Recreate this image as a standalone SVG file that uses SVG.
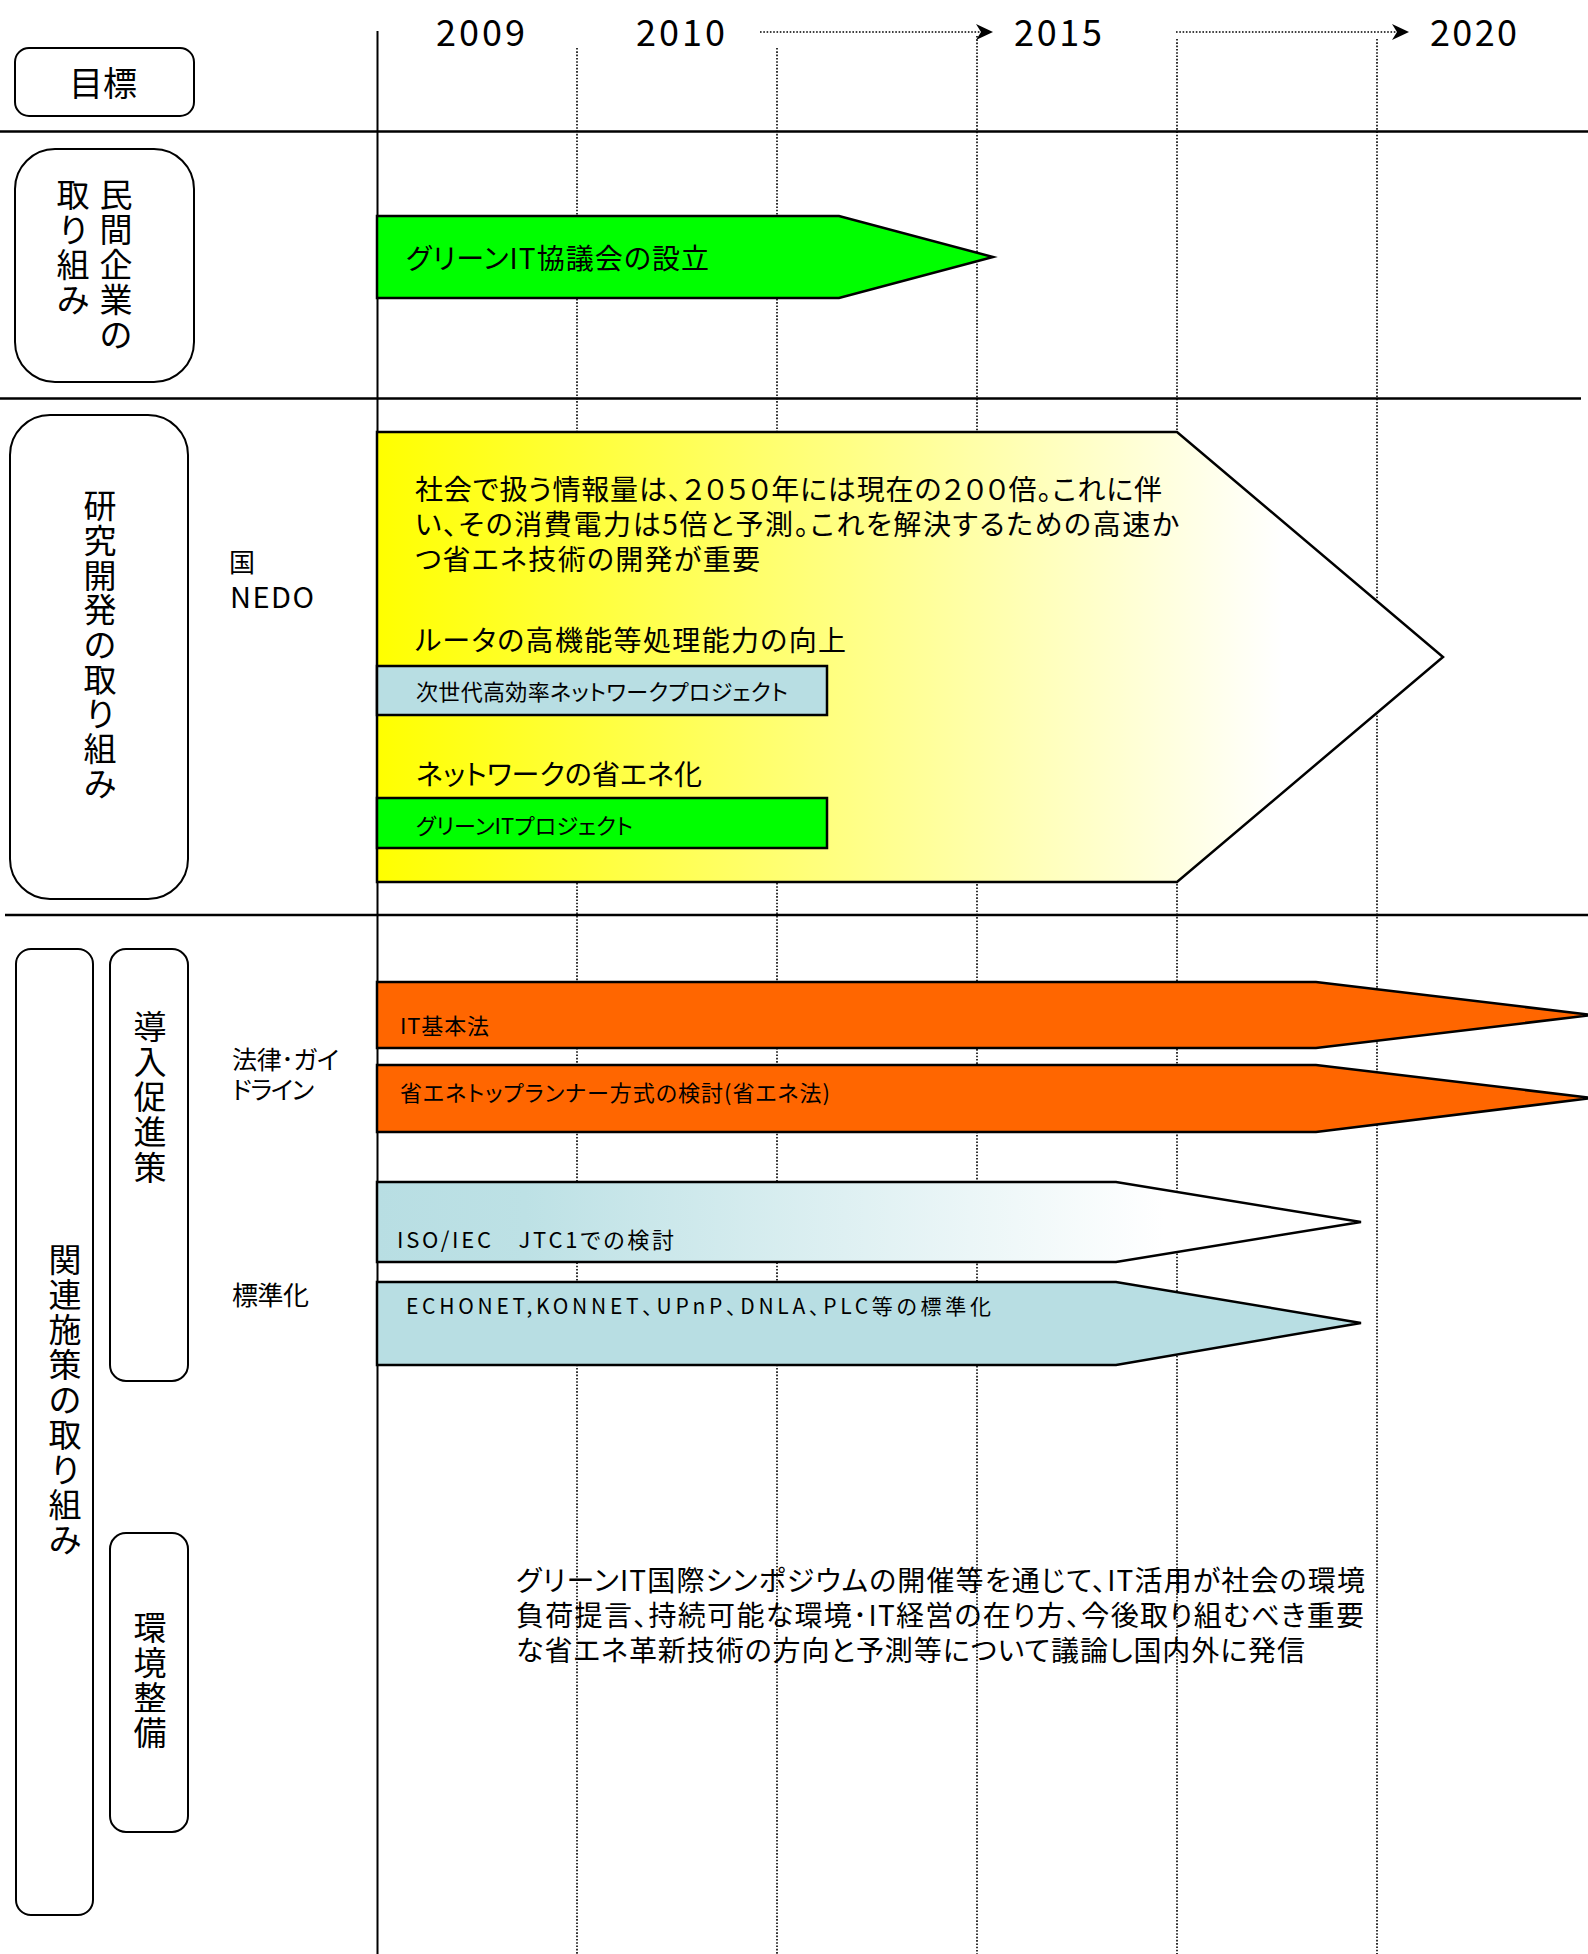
<svg xmlns="http://www.w3.org/2000/svg" width="1588" height="1954" viewBox="0 0 1588 1954">
<style>
text{font-family:"Noto Sans CJK JP","Noto Sans CJK SC",sans-serif;fill:#000;font-feature-settings:"palt"}
.yr{font-size:36px}
.lbl{font-size:33px;text-anchor:middle}
.big{font-size:28px}
.mid{font-size:25px}
.sm{font-size:22px}
.box{fill:#fff;stroke:#000;stroke-width:2}
.shp{stroke:#000;stroke-width:2.5;stroke-linejoin:miter}
.sol{stroke:#000;stroke-width:2.5;fill:none}
.dot{stroke:#000;stroke-width:1.6;stroke-dasharray:1.6 1.7;fill:none}
</style>
<defs>
<linearGradient id="gy" x1="0" y1="0" x2="1" y2="0">
<stop offset="0" stop-color="#FFFF00"/>
<stop offset="0.85" stop-color="#FFFFFF"/>
</linearGradient>
<linearGradient id="gb" x1="0" y1="0" x2="1" y2="0">
<stop offset="0" stop-color="#B8DEE3"/>
<stop offset="0.15" stop-color="#BDE1E5"/>
<stop offset="0.8" stop-color="#FFFFFF"/>
</linearGradient>
</defs>
<rect width="1588" height="1954" fill="#fff"/>

<g id="grid">
<line class="dot" x1="577" y1="48" x2="577" y2="1954"/>
<line class="dot" x1="777" y1="48" x2="777" y2="1954"/>
<line class="dot" x1="977" y1="36" x2="977" y2="1954"/>
<line class="dot" x1="1177" y1="39" x2="1177" y2="1954"/>
<line class="dot" x1="1377" y1="39" x2="1377" y2="1954"/>
<line class="sol" x1="0" y1="131.5" x2="1588" y2="131.5"/>
<line class="sol" x1="0" y1="398.5" x2="1581" y2="398.5"/>
<line class="sol" x1="5" y1="915" x2="1588" y2="915"/>
<line class="sol" style="stroke-width:2" x1="377.5" y1="31" x2="377.5" y2="1954"/>
</g>

<g id="connectors">
<line class="dot" x1="760" y1="32" x2="982" y2="32"/>
<polygon points="993,32 976,24 981,32 976,40" fill="#000"/>
<line class="dot" x1="1176" y1="32" x2="1398" y2="32"/>
<polygon points="1409,32 1392,24 1397,32 1392,40" fill="#000"/>
</g>

<g id="years">
<text class="yr" x="436" y="46" textLength="89">2009</text>
<text class="yr" x="636" y="46" textLength="89">2010</text>
<text class="yr" x="1014" y="46" textLength="88">2015</text>
<text class="yr" x="1430" y="46" textLength="87">2020</text>
</g>

<g id="goal">
<rect class="box" x="15" y="48" width="179" height="68" rx="14"/>
<text x="103" y="96" style="font-size:34px;text-anchor:middle">目標</text>
</g>

<g id="private">
<rect class="box" x="15" y="149" width="179" height="233" rx="40"/>
<text class="lbl"><tspan x="116" y="207">民</tspan><tspan x="116" y="242">間</tspan><tspan x="116" y="277">企</tspan><tspan x="116" y="312">業</tspan><tspan x="116" y="347">の</tspan></text>
<text class="lbl"><tspan x="73" y="207">取</tspan><tspan x="73" y="242">り</tspan><tspan x="73" y="277">組</tspan><tspan x="73" y="312">み</tspan></text>
</g>

<g id="research">
<rect class="box" x="10" y="415" width="178" height="484" rx="40"/>
<text class="lbl"><tspan x="100" y="518">研</tspan><tspan x="100" y="553">究</tspan><tspan x="100" y="588">開</tspan><tspan x="100" y="622">発</tspan><tspan x="100" y="657">の</tspan><tspan x="100" y="692">取</tspan><tspan x="100" y="726">り</tspan><tspan x="100" y="761">組</tspan><tspan x="100" y="796">み</tspan></text>
</g>

<g id="related">
<rect class="box" x="16" y="949" width="77" height="966" rx="15"/>
<text class="lbl"><tspan x="65" y="1272">関</tspan><tspan x="65" y="1307">連</tspan><tspan x="65" y="1342">施</tspan><tspan x="65" y="1377">策</tspan><tspan x="65" y="1412">の</tspan><tspan x="65" y="1447">取</tspan><tspan x="65" y="1482">り</tspan><tspan x="65" y="1517">組</tspan><tspan x="65" y="1552">み</tspan></text>
</g>

<g id="promotion">
<rect class="box" x="110" y="949" width="78" height="432" rx="16"/>
<text class="lbl"><tspan x="150" y="1039">導</tspan><tspan x="150" y="1074">入</tspan><tspan x="150" y="1109">促</tspan><tspan x="150" y="1144">進</tspan><tspan x="150" y="1180">策</tspan></text>
</g>

<g id="environment">
<rect class="box" x="110" y="1533" width="78" height="299" rx="16"/>
<text class="lbl"><tspan x="150" y="1640">環</tspan><tspan x="150" y="1675">境</tspan><tspan x="150" y="1710">整</tspan><tspan x="150" y="1745">備</tspan></text>
</g>

<g id="side-labels">
<text x="229" y="572" style="font-size:26px">国</text>
<text x="230" y="608" style="font-size:29px" textLength="84">NEDO</text>
<text class="mid" x="232" y="1069" textLength="107">法律･ガイ</text>
<text class="mid" x="232" y="1099" textLength="82">ドライン</text>
<text x="232" y="1305" style="font-size:26px" textLength="77">標準化</text>
</g>

<g id="green-it-council">
<polygon class="shp" fill="#00FF00" points="377,216 839,216 993,257 839,298 377,298"/>
<text class="big" x="406" y="269" textLength="303">グリーンIT協議会の設立</text>
</g>

<g id="research-arrow">
<polygon class="shp" fill="url(#gy)" points="377,432 1177,432 1443,657 1177,882 377,882"/>
<text class="big" x="415" y="500" textLength="747">社会で扱う情報量は、２０５０年には現在の２００倍。これに伴</text>
<text class="big" x="415" y="535" textLength="764">い、その消費電力は5倍と予測。これを解決するための高速か</text>
<text class="big" x="415" y="570" textLength="345">つ省エネ技術の開発が重要</text>
<text class="big" x="415" y="651" textLength="431">ルータの高機能等処理能力の向上</text>
<text class="big" x="416" y="785" textLength="286">ネットワークの省エネ化</text>
</g>

<g id="next-gen-project">
<rect class="shp" fill="#B8DEE3" x="377" y="666" width="450" height="49"/>
<text class="sm" x="416" y="700" textLength="372">次世代高効率ネットワークプロジェクト</text>
</g>

<g id="green-it-project">
<rect class="shp" fill="#00FF00" x="377" y="798" width="450" height="50"/>
<text class="sm" x="416" y="834" textLength="217">グリーンITプロジェクト</text>
</g>

<g id="it-basic-law">
<polygon class="shp" fill="#FF6600" points="377,982 1316,982 1592,1015 1316,1048 377,1048"/>
<text class="sm" x="400" y="1034" textLength="89">IT基本法</text>
</g>

<g id="top-runner">
<polygon class="shp" fill="#FF6600" points="377,1065 1316,1065 1592,1098 1316,1132 377,1132"/>
<text class="sm" x="400" y="1101" textLength="430">省エネトップランナー方式の検討(省エネ法)</text>
</g>

<g id="iso-iec">
<polygon class="shp" fill="url(#gb)" points="377,1182 1116,1182 1361,1222 1116,1262 377,1262"/>
<text class="sm" x="397" y="1248" textLength="277">ISO/IEC　JTC1での検討</text>
</g>

<g id="echonet">
<polygon class="shp" fill="#B8DEE3" points="377,1282 1116,1282 1361,1323 1116,1365 377,1365"/>
<text x="406" y="1314" style="font-size:21px" textLength="585">ECHONET,KONNET、UPnP、DNLA、PLC等の標準化</text>
</g>

<g id="symposium">
<text class="big" x="516" y="1591" textLength="849">グリーンIT国際シンポジウムの開催等を通じて、IT活用が社会の環境</text>
<text class="big" x="516" y="1626" textLength="848">負荷提言、持続可能な環境･IT経営の在り方、今後取り組むべき重要</text>
<text class="big" x="516" y="1661" textLength="789">な省エネ革新技術の方向と予測等について議論し国内外に発信</text>
</g>
</svg>
